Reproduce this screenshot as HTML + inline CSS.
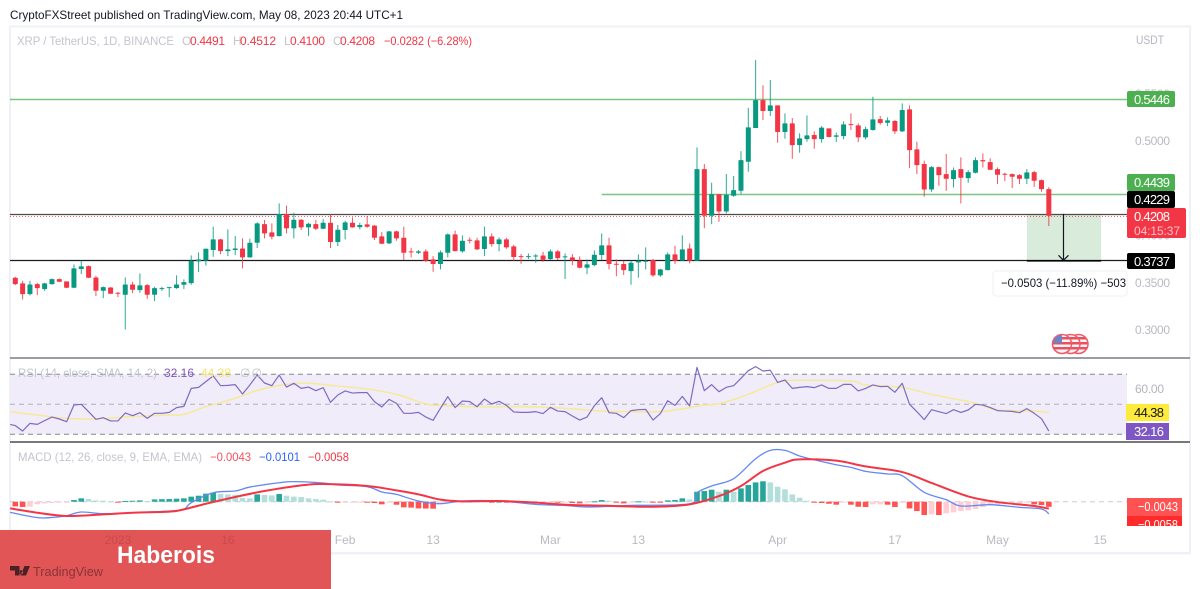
<!DOCTYPE html>
<html lang="en">
<head>
<meta charset="utf-8">
<title>XRP / TetherUS chart</title>
<style>
html,body{margin:0;padding:0;background:#fff;width:1200px;height:589px;overflow:hidden}
svg{display:block;font-family:"Liberation Sans",sans-serif}
</style>
</head>
<body>
<svg id="root" width="1200" height="589" viewBox="0 0 1200 589" xmlns="http://www.w3.org/2000/svg">
  <defs>
    <clipPath id="flag-clip"><circle cx="1062" cy="344" r="9"/></clipPath>
    <clipPath id="flag-clip-2"><circle cx="1070.5" cy="344" r="9"/></clipPath>
    <clipPath id="flag-clip-3"><circle cx="1078.5" cy="344" r="9"/></clipPath>
  </defs>
  <rect x="0" y="0" width="1200" height="589" fill="#ffffff"/>
  <text x="10" y="19" font-size="12" fill="#131722" textLength="393" lengthAdjust="spacingAndGlyphs">CryptoFXStreet published on TradingView.com, May 08, 2023 20:44 UTC+1</text>
  <rect x="10" y="26.5" width="1180" height="527" fill="none" stroke="#eff1f6" stroke-width="2"/>

  <g id="main-pane"></g>
  <g id="rsi-pane"></g>
  <g id="macd-pane"></g>

  <line x1="10" x2="1190" y1="358" y2="358" stroke="#7b7d83" stroke-width="1.6"/>
  <line x1="10" x2="1190" y1="442" y2="442" stroke="#26282e" stroke-width="1.3"/>

  <!-- legends -->
  <g font-size="12">
    <text x="17" y="45" fill="#c3c5cc" textLength="157" lengthAdjust="spacingAndGlyphs">XRP / TetherUS, 1D, BINANCE</text>
    <text x="182" y="45" fill="#c3c5cc">O</text>
    <text x="190" y="45" fill="#f23645" textLength="35">0.4491</text>
    <text x="233" y="45" fill="#c3c5cc">H</text>
    <text x="240" y="45" fill="#f23645" textLength="36">0.4512</text>
    <text x="284" y="45" fill="#c3c5cc">L</text>
    <text x="290" y="45" fill="#f23645" textLength="35">0.4100</text>
    <text x="333" y="45" fill="#c3c5cc">C</text>
    <text x="340" y="45" fill="#f23645" textLength="35">0.4208</text>
    <text x="384" y="45" fill="#f23645" textLength="88" lengthAdjust="spacingAndGlyphs">−0.0282 (−6.28%)</text>
  </g>
  <g font-size="12">
    <text x="18" y="377" fill="#c3c5cc" textLength="139" lengthAdjust="spacingAndGlyphs">RSI (14, close, SMA, 14, 2)</text>
    <text x="164" y="377" fill="#7e57c2" textLength="30">32.16</text>
    <text x="201" y="377" fill="#f7e36b" textLength="30">44.38</text>
    <text x="240" y="377" fill="#c3c5cc" textLength="22">∅ ∅</text>
  </g>
  <g font-size="12">
    <text x="18" y="461" fill="#c3c5cc" textLength="184" lengthAdjust="spacingAndGlyphs">MACD (12, 26, close, 9, EMA, EMA)</text>
    <text x="210" y="461" fill="#f4525f" textLength="41" lengthAdjust="spacingAndGlyphs">−0.0043</text>
    <text x="259" y="461" fill="#2962ff" textLength="41" lengthAdjust="spacingAndGlyphs">−0.0101</text>
    <text x="308" y="461" fill="#f23645" textLength="41" lengthAdjust="spacingAndGlyphs">−0.0058</text>
  </g>

  <!-- measure tooltip -->
  <g>
    <rect x="993" y="271" width="134" height="25" rx="3" fill="#ffffff" stroke="#f0f1f4"/>
    <text x="1001" y="287" font-size="12" fill="#131722" textLength="125" lengthAdjust="spacingAndGlyphs">−0.0503 (−11.89%) −503</text>
  </g>

  <!-- flag -->
  <g>
    <circle cx="1078.5" cy="344" r="9.5" fill="#fdf3f4" stroke="#ef5a68" stroke-width="1.5"/>
    <g clip-path="url(#flag-clip-3)">
      <rect x="1068" y="337" width="21" height="2.5" fill="#e8505f"/>
      <rect x="1068" y="342" width="21" height="2.5" fill="#e8505f"/>
      <rect x="1068" y="347" width="21" height="2.5" fill="#e8505f"/>
    </g>
    <circle cx="1070.5" cy="344" r="9.5" fill="#fdf3f4" stroke="#ef5a68" stroke-width="1.5"/>
    <g clip-path="url(#flag-clip-2)">
      <rect x="1060" y="337" width="21" height="2.5" fill="#e8505f"/>
      <rect x="1060" y="342" width="21" height="2.5" fill="#e8505f"/>
      <rect x="1060" y="347" width="21" height="2.5" fill="#e8505f"/>
    </g>
    <circle cx="1062" cy="344" r="9.5" fill="#fdf3f4" stroke="#ef5a68" stroke-width="1.5"/>
    <g clip-path="url(#flag-clip)">
      <rect x="1052" y="337" width="21" height="2.5" fill="#e8505f"/>
      <rect x="1052" y="342" width="21" height="2.5" fill="#e8505f"/>
      <rect x="1052" y="347" width="21" height="2.5" fill="#e8505f"/>
      <rect x="1052" y="334" width="10" height="9" fill="#6a86c8"/>
    </g>
  </g>

  <!-- right axis badges -->
  <g font-size="14">
    <text x="1136" y="44" font-size="12" fill="#b2b5be" textLength="28" lengthAdjust="spacingAndGlyphs">USDT</text>
    <rect x="1127" y="91" width="48" height="16" rx="2" fill="#4caf50"/>
    <text x="1134" y="104" fill="#fff" font-size="13" textLength="36">0.5446</text>
    <rect x="1127" y="174" width="48" height="17" rx="2" fill="#4caf50"/>
    <text x="1134" y="187" fill="#fff" font-size="13" textLength="36">0.4439</text>
    <rect x="1127" y="191" width="48" height="17" rx="2" fill="#000"/>
    <text x="1134" y="204" fill="#fff" font-size="13" textLength="36">0.4229</text>
    <rect x="1127" y="208" width="59" height="30" rx="2" fill="#f23645"/>
    <text x="1134" y="221" fill="#fff" font-size="13" textLength="36">0.4208</text>
    <text x="1134" y="235" fill="#ffc2c8" font-size="12" textLength="46">04:15:37</text>
    <rect x="1127" y="253" width="48" height="16" rx="2" fill="#000"/>
    <text x="1134" y="266" fill="#fff" font-size="13" textLength="36">0.3737</text>
  </g>
  <g font-size="14">
    <text x="1135" y="393" font-size="12" fill="#b2b5be" textLength="29">60.00</text>
    <rect x="1126" y="404" width="43" height="17" fill="#ffeb3b"/>
    <text x="1134" y="417" font-size="13" fill="#131722" textLength="30">44.38</text>
    <rect x="1126" y="423" width="43" height="17" fill="#7e57c2"/>
    <text x="1134" y="436" font-size="13" fill="#fff" textLength="30">32.16</text>
    <rect x="1127" y="498" width="55" height="18" fill="#ff5252"/>
    <text x="1138" y="511" font-size="13" fill="#fff" textLength="40" lengthAdjust="spacingAndGlyphs">−0.0043</text>
    <svg x="1127" y="516" width="55" height="10">
      <rect x="0" y="0" width="55" height="10" fill="#ff2a2a"/>
      <text x="11" y="13" font-size="13" fill="#fff" textLength="40" lengthAdjust="spacingAndGlyphs">−0.0058</text>
    </svg>
  </g>

  <line x1="10" x2="1190" y1="553" y2="553" stroke="#eff1f6" stroke-width="2"/>

  <!-- banner -->
  <rect x="0" y="530" width="331" height="59" fill="#e15557"/>
  <text x="117" y="563" font-size="24" font-weight="bold" fill="#ffffff" textLength="98" lengthAdjust="spacingAndGlyphs">Haberois</text>
  <g>
    <path d="M10 566h9.5v9.5h-4.5v-5h-5z M21 570.2a2 2 0 1 0 .01 0z M24.5 566h5.5l-4 9.5h-5.5z" fill="#4a2226"/>
    <text x="33" y="576" font-size="13" fill="#8a3338" textLength="70" lengthAdjust="spacingAndGlyphs">TradingView</text>
  </g>
  <g id="time-axis" font-size="12"></g>

<script>
// ---------- chart data ----------
const opens = [.3553,.3493,.3380,.3486,.3433,.3486,.3539,.3514,.3447,.3645,
.3676,.3556,.3415,.3450,.3394,.3373,.3482,.3422,.3475,.3373,
.3436,.3443,.3443,.3479,.3496,.3726,.3736,.3846,.3959,.3835,
.3846,.3863,.3768,.3923,.4121,.4033,.3994,.4227,.4075,.4167,
.4086,.4121,.4072,.4135,.3931,.4058,.4135,.4089,.4118,.4104,
.3991,.3917,.4043,.3976,.3832,.3818,.3832,.3747,.3698,.3818,
.4012,.3832,.3955,.3948,.3857,.3991,.3909,.3959,.3885,.3782,
.3772,.3779,.3789,.3750,.3832,.3768,.3768,.3733,.3659,.3687,
.3793,.3895,.3701,.3698,.3623,.3715,.3726,.3740,.3578,.3634,
.3800,.3736,.3863,.3733,.4703,.4209,.4438,.4254,.4420,.4473,
.4780,.5137,.5433,.5317,.5377,.5095,.5187,.4957,.5020,.5063,
.5020,.5134,.5045,.5052,.5179,.5165,.5038,.5116,.5232,.5193,
.5211,.5102,.5335,.4911,.4756,.4487,.4724,.4650,.4597,.4703,
.4607,.4664,.4798,.4777,.4703,.4653,.4650,.4639,.4600,.4671,
.4586,.4491];
const closes = [.3486,.3380,.3482,.3443,.3493,.3539,.3510,.3447,.3652,.3673,
.3553,.3415,.3454,.3383,.3383,.3482,.3426,.3472,.3373,.3443,
.3443,.3454,.3482,.3507,.3733,.3747,.3860,.3959,.3835,.3853,
.3863,.3768,.3923,.4128,.4022,.3987,.4227,.4075,.4167,.4086,
.4125,.4072,.4135,.3931,.4061,.4139,.4086,.4111,.4093,.3976,
.3913,.4043,.3969,.3818,.3821,.3832,.3733,.3698,.3821,.4012,
.3835,.3945,.3945,.3853,.3991,.3909,.3959,.3874,.3772,.3775,
.3782,.3789,.3743,.3832,.3761,.3779,.3736,.3659,.3694,.3796,
.3895,.3698,.3691,.3634,.3712,.3733,.3733,.3578,.3641,.3800,
.3733,.3853,.3733,.4703,.4209,.4438,.4254,.4431,.4480,.4798,
.5144,.5433,.5317,.5377,.5095,.5187,.4957,.5028,.5059,.5020,
.5141,.5042,.5059,.5176,.5172,.5038,.5126,.5229,.5190,.5218,
.5102,.5328,.4904,.4745,.4487,.4724,.4639,.4600,.4692,.4611,
.4671,.4798,.4784,.4696,.4643,.4643,.4622,.4600,.4668,.4579,
.4491,.4208];
const highs = [.3563,.3521,.3521,.3500,.3500,.3546,.3546,.3514,.3694,.3733,
.3683,.3574,.3461,.3454,.3401,.3556,.3510,.3599,.3486,.3458,
.3458,.3458,.3578,.3535,.3789,.3821,.3863,.4093,.3966,.4065,
.3994,.3969,.3966,.4139,.4164,.4128,.4340,.4315,.4241,.4174,
.4135,.4164,.4174,.4227,.4111,.4156,.4192,.4135,.4206,.4111,
.4036,.4047,.4051,.4093,.3871,.3846,.3853,.3782,.3842,.4022,
.4051,.4001,.3980,.3976,.4093,.4022,.3980,.3976,.3902,.3803,
.3810,.3803,.3828,.3853,.3846,.3810,.3803,.3779,.3747,.3842,
.4022,.3976,.3747,.3733,.3733,.3800,.3874,.3754,.3648,.3821,
.3892,.4001,.3916,.4932,.4756,.4558,.4438,.4650,.4629,.4893,
.5352,.5857,.5589,.5645,.5377,.5292,.5243,.5081,.5271,.5102,
.5158,.5134,.5088,.5208,.5292,.5187,.5151,.5469,.5264,.5250,
.5222,.5398,.5377,.4992,.4791,.4735,.4728,.4862,.4720,.4826,
.4692,.4826,.4869,.4816,.4720,.4664,.4657,.4650,.4703,.4685,
.4593,.4512];
const lows = [.3475,.3323,.3366,.3369,.3415,.3479,.3507,.3443,.3443,.3592,
.3549,.3359,.3337,.3380,.3348,.3006,.3390,.3394,.3330,.3306,
.3415,.3348,.3436,.3433,.3479,.3613,.3683,.3775,.3803,.3782,
.3793,.3652,.3765,.3867,.3969,.3959,.3991,.4022,.3969,.4058,
.3994,.4058,.4065,.3867,.3888,.3959,.4082,.4065,.4082,.3952,
.3909,.3909,.3945,.3740,.3768,.3803,.3719,.3616,.3641,.3768,
.3832,.3818,.3916,.3846,.3782,.3881,.3832,.3860,.3733,.3701,
.3750,.3712,.3722,.3740,.3740,.3539,.3687,.3652,.3592,.3676,
.3740,.3641,.3570,.3581,.3479,.3553,.3641,.3563,.3563,.3631,
.3698,.3733,.3705,.3733,.4078,.4120,.4145,.4233,.4410,.4438,
.4675,.5137,.5222,.5264,.4982,.5024,.4812,.4876,.4992,.4918,
.4982,.5038,.4989,.5017,.5116,.4989,.5017,.5109,.5172,.5158,
.5074,.5095,.4713,.4650,.4410,.4463,.4526,.4473,.4509,.4339,
.4558,.4657,.4720,.4692,.4544,.4576,.4502,.4544,.4544,.4516,
.4463,.4100];

const priceTicks = [0.55, 0.50, 0.40, 0.35, 0.30];
const resistanceTop = 0.5446;
const resistanceMid = 0.4439;
const measureStart = 0.4229;
const lastClose = 0.4208;
const measureEnd = 0.3737;
const midLevelStartDay = 80;
const measureFromDay = 138;
const measureToDay = 148;
const measureArrowDay = 143;

const rsiLeadDays = [-0.7];
const rsiLeadValues = [36.6];
const rsiValues = [35.8,32.2,37.3,36.6,39.1,41.5,40.2,38.4,49.5,50,45.1,40,41.1,38.9,38.9,44.2,42.4,44.4,40.6,44,44,44.6,47.8,48.6,60.6,61.3,65.1,68.9,62.4,62.6,63.1,56.9,62.9,69.5,64.2,62.4,69.5,61.5,64,60.6,61.5,59.1,61.1,51.3,56.2,58.9,57.5,57.8,57.8,51.8,48.2,53.3,50.6,
44,44,44.6,41.5,39.3,47.3,55.1,47.8,52.2,51.8,48.4,53.5,50.2,52,49.3,44.9,44.6,44.6,45.1,43.8,48,45.5,45.1,42.2,39.5,41.5,49.1,54.4,44.4,44,41.1,45.8,46.4,46.6,39.5,43.8,52.4,49.3,55.3,48.9,74.6,59.1,63.1,58.4,61.3,62.4,67.3,72.4,75.1,72.2,72.7,64.6,66.2,60.6,61.3,
61.8,61.1,62.9,60.6,60.6,63.3,63.3,58.9,60.6,62.9,61.8,62,58,64,50,45.1,39.8,46.4,45.1,43.8,46.4,44.6,46.2,50,49.5,47.8,45.8,45.5,45.3,44.4,47.1,44,40.4,32.16];
const rsiMaDays = [-0.7,3,7,11,16,21,23,26,30,33,37,40,43,48,52,55,57,62,70,75,80,84,88,91,94,96,100,103,105,107,114,116,121,125,130,132,134,139,141];
const rsiMaValues = [45,42.9,40.6,40.2,41.8,42.9,43.3,48.4,54,59.3,63.3,64,62.6,60.2,56.6,51.8,49.5,48.4,48.4,47.3,45.5,45.1,45.1,46.9,49.5,50.4,56.6,62.9,65.5,66,65.5,62.9,61.3,56.6,51.8,49.1,46.2,45.5,44.38];
const rsiBands = [70, 50, 30];

const macdHist = [-.0039,-.0044,-.0042,-.0022,-.0014,-.0011,-.0008,-.0006,.0014,.0028,
.0022,.0011,.0008,.0003,-.0003,.0006,.0008,.0011,.0006,.0019,
.0021,.0022,.0025,.0028,.0042,.0050,.0067,.0075,.0064,.0061,
.0058,.0031,.0028,.0061,.0056,.0053,.0064,.0050,.0042,.0039,
.0028,.0022,.0017,.0003,-.0008,-.0006,-.0006,-.0003,-.0006,-.0011,
-.0022,-.0006,-.0025,-.0047,-.0049,-.0056,-.0057,-.0058,-.0014,-.0008,
-.0006,-.0003,.0003,.0001,.0001,-.0001,.0001,-.0001,-.0002,-.0001,
-.0002,-.0003,-.0002,-.0001,-.0003,-.0002,-.0011,-.0014,-.0003,.0003,
.0014,.0008,-.0006,-.0014,-.0006,.0003,.0002,-.0003,-.0006,.0011,
.0014,.0028,.0019,.0083,.0089,.0100,.0083,.0100,.0083,.0111,
.0139,.0161,.0170,.0161,.0125,.0103,.0061,.0033,.0008,-.0003,
-.0011,-.0017,-.0025,-.0008,-.0025,-.0042,-.0044,-.0022,-.0022,-.0025,
-.0044,-.0006,-.0056,-.0078,-.0111,-.0106,-.0111,-.0097,-.0089,-.0078,
-.0072,-.0061,-.0044,-.0028,-.0022,-.0017,-.0014,-.0014,-.0008,-.0022,
-.0028,-.0043];
const macdDays = [-0.7,3,5,7,9,12,16,21,23,24,27,30,32,36,38,42,44,48,50,52,55,58,61,66,71,75,78,84,92,93,95,98,101,103,105,107,109,112,114,116,119,121,124,127,129,133,137,140,141];
const macdValues = [-.0089,-.0133,-.0131,-.0117,-.0086,-.0100,-.0092,-.0078,-.0064,-.0008,.0075,.0089,.0122,.0158,.0167,.0156,.0139,.0125,.0081,.0061,.0006,-.0017,.0006,.0006,-.0022,-.0031,-.0044,-.0031,-.0017,.0075,.0131,.0192,.0358,.0428,.0428,.0381,.0350,.0308,.0286,.0253,.0231,.0217,.0078,.0017,-.0036,-.0025,-.0047,-.0061,-.0101];
const signalDays = [-0.7,3,7,12,16,21,23,26,30,34,39,42,48,52,55,58,61,66,71,75,80,87,92,96,99,102,105,107,112,116,121,125,130,134,139,141];
const signalValues = [-.0056,-.0092,-.0119,-.0106,-.0092,-.0083,-.0064,-.0017,.0039,.0089,.0136,.0147,.0131,.0094,.0061,.0017,.0003,.0006,-.0008,-.0025,-.0033,-.0042,-.0022,.0047,.0131,.0256,.0325,.0353,.0342,.0294,.0247,.0156,.0044,-.0003,-.0036,-.0058];

const timeTickDays = [14, 29, 45, 57, 73, 85, 104, 120, 134, 148];
const timeTickLabels = ['2023', '16', 'Feb', '13', 'Mar', '13', 'Apr', '17', 'May', '15'];

// ---------- axis functions ----------
const xDay = d => 15.3 + d * 7.33;
const yPrice = p => 141 + (0.5 - p) * 945;
const yRsi = v => 404.3 + (50 - v) * 1.5;
const yMacd = v => 501.7 - v * 1200;
const crisp = y => Math.round(y) + 0.5;

const NS = 'http://www.w3.org/2000/svg';
function mk(tag, parent, attrs) {
  const el = document.createElementNS(NS, tag);
  for (const k in attrs) el.setAttribute(k, attrs[k]);
  parent.appendChild(el);
  return el;
}
function smoothPath(xs, ys) {
  let d = 'M' + xs[0] + ' ' + ys[0];
  for (let i = 0; i < xs.length - 1; i++) {
    const a = Math.max(i - 1, 0), b = Math.min(i + 2, xs.length - 1);
    const c1x = xs[i] + (xs[i + 1] - xs[a]) / 6, c1y = ys[i] + (ys[i + 1] - ys[a]) / 6;
    const c2x = xs[i + 1] - (xs[b] - xs[i]) / 6, c2y = ys[i + 1] - (ys[b] - ys[i]) / 6;
    d += 'C' + c1x + ' ' + c1y + ' ' + c2x + ' ' + c2y + ' ' + xs[i + 1] + ' ' + ys[i + 1];
  }
  return d;
}
const main = document.getElementById('main-pane');
const rsiPane = document.getElementById('rsi-pane');
const macdPane = document.getElementById('macd-pane');
const timeAxis = document.getElementById('time-axis');
const RIGHT = 1127;

// ---------- price pane ----------
priceTicks.forEach(t => {
  const el = mk('text', main, {x: 1135, y: yPrice(t) + 4, 'font-size': 12, fill: '#b8bac2', textLength: 35});
  el.textContent = t.toFixed(4);
  
  
});

const measureBox = mk('rect', main, {x: xDay(measureFromDay), y: yPrice(measureStart), width: xDay(measureToDay) - xDay(measureFromDay) + 1, height: yPrice(measureEnd) - yPrice(measureStart), fill: '#d9ebdb'});



const topLine = mk('line', main, {x1: 10, x2: RIGHT, y1: crisp(yPrice(resistanceTop)), y2: crisp(yPrice(resistanceTop)), stroke: '#7cc480', 'stroke-width': 1.4});



const midLine = mk('line', main, {x1: xDay(midLevelStartDay), x2: RIGHT, y1: crisp(yPrice(resistanceMid)), y2: crisp(yPrice(resistanceMid)), stroke: '#7cc480', 'stroke-width': 1.4});



const lastLine = mk('line', main, {x1: 10, x2: RIGHT, y1: crisp(yPrice(lastClose)), y2: crisp(yPrice(lastClose)), stroke: '#f23645', 'stroke-width': 1, 'stroke-dasharray': '1 2', opacity: 0.8});



const startLine = mk('line', main, {x1: 10, x2: RIGHT, y1: crisp(yPrice(measureStart)), y2: crisp(yPrice(measureStart)), stroke: '#4e4a4c', 'stroke-width': 1.2});



const lowLine = mk('line', main, {x1: 10, x2: RIGHT, y1: crisp(yPrice(measureEnd)), y2: crisp(yPrice(measureEnd)), stroke: '#1b1d22', 'stroke-width': 1.2});



opens.forEach((o, i) => {
  const c = closes[i];
  const color = c >= o ? '#089981' : '#f23645';
  const x = xDay(i);
  const wick = mk('line', main, {x1: x, x2: x, y1: yPrice(highs[i]), y2: yPrice(lows[i]), stroke: color, 'stroke-width': 1, opacity: 0.85});
  
  
  const top = yPrice(Math.max(o, c));
  const body = mk('rect', main, {x: x - 2.5, y: top, width: 5, height: Math.max(1, yPrice(Math.min(o, c)) - top), fill: color, rx: 0.6});
  
  
});

const arrowX = xDay(measureArrowDay);
const arrowEnd = yPrice(measureEnd);
const arrow = mk('path', main, {d: 'M' + arrowX + ' ' + yPrice(measureStart) + 'V' + arrowEnd + 'M' + (arrowX - 5) + ' ' + (arrowEnd - 5) + 'L' + arrowX + ' ' + arrowEnd + 'L' + (arrowX + 5) + ' ' + (arrowEnd - 5), fill: 'none', stroke: '#131722', 'stroke-width': 1.2});



const measureBase = mk('line', main, {x1: xDay(measureFromDay), x2: xDay(measureToDay) + 1, y1: arrowEnd + 0.5, y2: arrowEnd + 0.5, stroke: '#000', 'stroke-width': 1.6});



// ---------- RSI pane ----------
const rsiBg = mk('rect', rsiPane, {x: 10, y: yRsi(rsiBands[0]), width: RIGHT - 10, height: yRsi(rsiBands[2]) - yRsi(rsiBands[0]), fill: '#f0ecfa'});



rsiBands.forEach(b => {
  const l = mk('line', rsiPane, {x1: 10, x2: RIGHT, y1: yRsi(b), y2: yRsi(b), stroke: '#85868c', 'stroke-width': 1, 'stroke-dasharray': '5 4', opacity: b === 50 ? 0.6 : 1});
  
  
});

const rsiMaLine = mk('path', rsiPane, {d: smoothPath(rsiMaDays.map(xDay), rsiMaValues.map(yRsi)), fill: 'none', stroke: '#f6e998', 'stroke-width': 1.5});



const rsiPoints = rsiLeadDays.map((d, i) => xDay(d) + ',' + yRsi(rsiLeadValues[i])).concat(rsiValues.map((v, i) => xDay(i) + ',' + yRsi(v)));
const rsiLine = mk('polyline', rsiPane, {points: rsiPoints.join(' '), fill: 'none', stroke: '#7e6bc2', 'stroke-width': 1.2, 'stroke-linejoin': 'round'});



// ---------- MACD pane ----------
const zeroLine = mk('line', macdPane, {x1: 10, x2: RIGHT, y1: yMacd(0), y2: yMacd(0), stroke: '#c9cbd1', 'stroke-width': 1, 'stroke-dasharray': '5 4'});



macdHist.forEach((v, i) => {
  const prev = i ? macdHist[i - 1] : 0;
  const color = v >= 0 ? (v > prev ? '#26a69a' : '#b2dfdb') : (v < prev ? '#ff5252' : '#ffcdd2');
  const top = Math.min(yMacd(v), yMacd(0));
  const bar = mk('rect', macdPane, {x: xDay(i) - 2.8, y: top, width: 5.6, height: Math.max(1, Math.abs(yMacd(v) - yMacd(0))), fill: color});
  
  
});

const macdLine = mk('path', macdPane, {d: smoothPath(macdDays.map(xDay), macdValues.map(yMacd)), fill: 'none', stroke: '#6488f2', 'stroke-width': 1.3});



const signalLine = mk('path', macdPane, {d: smoothPath(signalDays.map(xDay), signalValues.map(yMacd)), fill: 'none', stroke: '#f23645', 'stroke-width': 2});



// ---------- time axis ----------
timeTickDays.forEach((d, i) => {
  const x = xDay(d);
  const el = mk('text', timeAxis, {x: x, y: 544, 'text-anchor': 'middle', fill: x < 331 ? '#c94a4c' : '#b8bac2'});
  el.textContent = timeTickLabels[i];
  
  
});
</script>
</svg>
</body>
</html>
